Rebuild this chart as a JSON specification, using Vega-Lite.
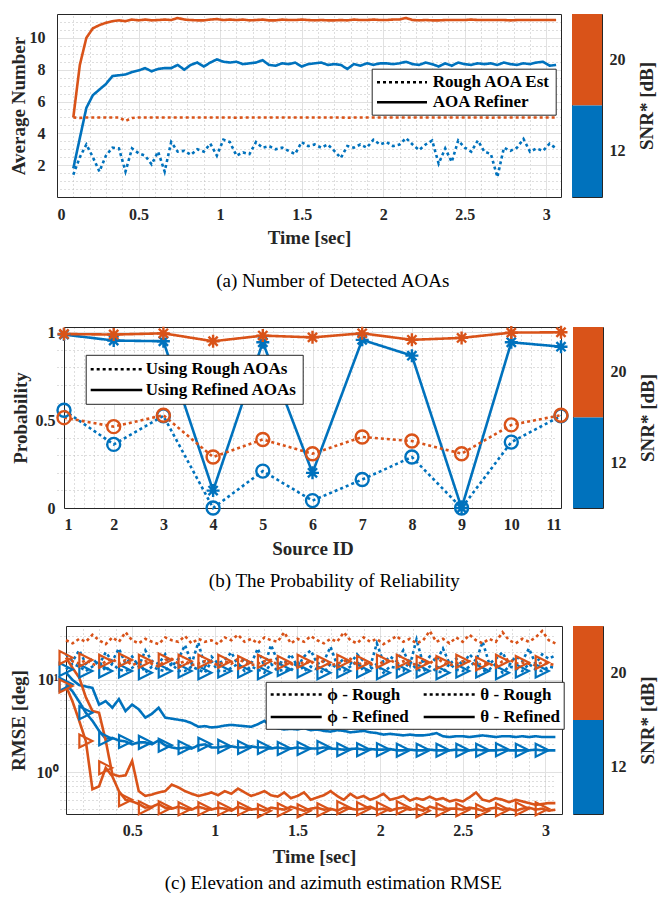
{
  "$schema": "https://vega.github.io/schema/vega-lite/v6.json",
  "background": "white",
  "padding": {"left": 8, "top": 12, "right": 0, "bottom": 0},
  "config": {
    "view": {"stroke": null},
    "axis": {
      "labelFont": "Liberation Serif", "labelFontWeight": "bold", "labelFontSize": 16, "labelColor": "#262626",
      "titleFont": "Liberation Serif", "titleFontWeight": "bold", "titleFontSize": 19, "titleColor": "#262626",
      "domainColor": "#262626", "domainWidth": 1, "ticks": false, "tickSize": 0,
      "gridColor": "#e1e1e1", "gridWidth": 1
    },
    "legend": {"labelFont": "Liberation Serif", "labelFontWeight": "bold", "labelFontSize": 17, "labelColor": "black", "labelLimit": 400, "symbolBaseStrokeColor": "black", "symbolBaseFillColor": "transparent"},
    "title": {"font": "Liberation Serif", "fontWeight": "normal", "fontSize": 19, "color": "black"},
    "line": {"strokeWidth": 2.6, "strokeCap": "butt"}
  },
  "resolve": {
    "scale": {"strokeDash": "independent", "shape": "independent"},
    "legend": {"strokeDash": "independent", "shape": "independent"}
  },
  "datasets": {
    "aoa": [
      {"t":0.1,"snr":"12","Rough AOA Est":1.4,"AOA Refiner":1.8},
      {"t":0.14,"snr":"12","Rough AOA Est":2.5,"AOA Refiner":3.7},
      {"t":0.18,"snr":"12","Rough AOA Est":3.3,"AOA Refiner":5.6},
      {"t":0.22,"snr":"12","Rough AOA Est":2.5,"AOA Refiner":6.4},
      {"t":0.26,"snr":"12","Rough AOA Est":1.6,"AOA Refiner":6.75},
      {"t":0.3,"snr":"12","Rough AOA Est":2.6,"AOA Refiner":7.1},
      {"t":0.34,"snr":"12","Rough AOA Est":3.1,"AOA Refiner":7.6},
      {"t":0.38,"snr":"12","Rough AOA Est":3.05,"AOA Refiner":7.65},
      {"t":0.42,"snr":"12","Rough AOA Est":1.6,"AOA Refiner":7.7},
      {"t":0.46,"snr":"12","Rough AOA Est":3.05,"AOA Refiner":7.85},
      {"t":0.5,"snr":"12","Rough AOA Est":2.75,"AOA Refiner":7.95},
      {"t":0.54,"snr":"12","Rough AOA Est":2.6,"AOA Refiner":8.1},
      {"t":0.58,"snr":"12","Rough AOA Est":2.05,"AOA Refiner":7.9},
      {"t":0.62,"snr":"12","Rough AOA Est":2.85,"AOA Refiner":8.05},
      {"t":0.66,"snr":"12","Rough AOA Est":1.6,"AOA Refiner":8.1},
      {"t":0.7,"snr":"12","Rough AOA Est":3.45,"AOA Refiner":8.1},
      {"t":0.74,"snr":"12","Rough AOA Est":2.85,"AOA Refiner":8.3},
      {"t":0.78,"snr":"12","Rough AOA Est":2.9,"AOA Refiner":8.0},
      {"t":0.82,"snr":"12","Rough AOA Est":2.65,"AOA Refiner":8.3},
      {"t":0.86,"snr":"12","Rough AOA Est":3.0,"AOA Refiner":8.45},
      {"t":0.9,"snr":"12","Rough AOA Est":2.85,"AOA Refiner":8.2},
      {"t":0.94,"snr":"12","Rough AOA Est":3.35,"AOA Refiner":8.45},
      {"t":0.98,"snr":"12","Rough AOA Est":2.6,"AOA Refiner":8.65},
      {"t":1.02,"snr":"12","Rough AOA Est":3.6,"AOA Refiner":8.5},
      {"t":1.06,"snr":"12","Rough AOA Est":3.45,"AOA Refiner":8.45},
      {"t":1.1,"snr":"12","Rough AOA Est":2.6,"AOA Refiner":8.5},
      {"t":1.14,"snr":"12","Rough AOA Est":2.8,"AOA Refiner":8.35},
      {"t":1.18,"snr":"12","Rough AOA Est":2.7,"AOA Refiner":8.4},
      {"t":1.22,"snr":"12","Rough AOA Est":3.45,"AOA Refiner":8.45},
      {"t":1.26,"snr":"12","Rough AOA Est":3.1,"AOA Refiner":8.6},
      {"t":1.3,"snr":"12","Rough AOA Est":3.2,"AOA Refiner":8.3},
      {"t":1.34,"snr":"12","Rough AOA Est":3.0,"AOA Refiner":8.25},
      {"t":1.38,"snr":"12","Rough AOA Est":3.1,"AOA Refiner":8.4},
      {"t":1.42,"snr":"12","Rough AOA Est":2.9,"AOA Refiner":8.35},
      {"t":1.46,"snr":"12","Rough AOA Est":2.7,"AOA Refiner":8.45},
      {"t":1.5,"snr":"12","Rough AOA Est":3.45,"AOA Refiner":8.2},
      {"t":1.54,"snr":"12","Rough AOA Est":3.2,"AOA Refiner":8.35},
      {"t":1.58,"snr":"12","Rough AOA Est":3.3,"AOA Refiner":8.4},
      {"t":1.62,"snr":"12","Rough AOA Est":3.1,"AOA Refiner":8.45},
      {"t":1.66,"snr":"12","Rough AOA Est":3.3,"AOA Refiner":8.3},
      {"t":1.7,"snr":"12","Rough AOA Est":2.9,"AOA Refiner":8.35},
      {"t":1.74,"snr":"12","Rough AOA Est":2.45,"AOA Refiner":8.3},
      {"t":1.78,"snr":"12","Rough AOA Est":3.2,"AOA Refiner":8.05},
      {"t":1.82,"snr":"12","Rough AOA Est":3.1,"AOA Refiner":8.35},
      {"t":1.86,"snr":"12","Rough AOA Est":3.3,"AOA Refiner":8.25},
      {"t":1.9,"snr":"12","Rough AOA Est":3.1,"AOA Refiner":8.4},
      {"t":1.94,"snr":"12","Rough AOA Est":3.6,"AOA Refiner":8.3},
      {"t":1.98,"snr":"12","Rough AOA Est":3.3,"AOA Refiner":8.4},
      {"t":2.02,"snr":"12","Rough AOA Est":3.45,"AOA Refiner":8.4},
      {"t":2.06,"snr":"12","Rough AOA Est":3.2,"AOA Refiner":8.35},
      {"t":2.1,"snr":"12","Rough AOA Est":3.3,"AOA Refiner":8.4},
      {"t":2.14,"snr":"12","Rough AOA Est":3.7,"AOA Refiner":8.5},
      {"t":2.18,"snr":"12","Rough AOA Est":3.3,"AOA Refiner":8.35},
      {"t":2.22,"snr":"12","Rough AOA Est":2.95,"AOA Refiner":8.3},
      {"t":2.26,"snr":"12","Rough AOA Est":3.3,"AOA Refiner":8.45},
      {"t":2.3,"snr":"12","Rough AOA Est":3.55,"AOA Refiner":8.35},
      {"t":2.34,"snr":"12","Rough AOA Est":2.1,"AOA Refiner":8.2},
      {"t":2.38,"snr":"12","Rough AOA Est":3.05,"AOA Refiner":8.4},
      {"t":2.42,"snr":"12","Rough AOA Est":2.2,"AOA Refiner":8.25},
      {"t":2.46,"snr":"12","Rough AOA Est":3.55,"AOA Refiner":8.45},
      {"t":2.5,"snr":"12","Rough AOA Est":3.1,"AOA Refiner":8.35},
      {"t":2.54,"snr":"12","Rough AOA Est":2.85,"AOA Refiner":8.3},
      {"t":2.58,"snr":"12","Rough AOA Est":3.55,"AOA Refiner":8.4},
      {"t":2.62,"snr":"12","Rough AOA Est":2.85,"AOA Refiner":8.35},
      {"t":2.66,"snr":"12","Rough AOA Est":2.7,"AOA Refiner":8.4},
      {"t":2.7,"snr":"12","Rough AOA Est":1.25,"AOA Refiner":8.3},
      {"t":2.74,"snr":"12","Rough AOA Est":3.1,"AOA Refiner":8.45},
      {"t":2.78,"snr":"12","Rough AOA Est":2.9,"AOA Refiner":8.35},
      {"t":2.82,"snr":"12","Rough AOA Est":3.1,"AOA Refiner":8.3},
      {"t":2.86,"snr":"12","Rough AOA Est":3.65,"AOA Refiner":8.4},
      {"t":2.9,"snr":"12","Rough AOA Est":2.85,"AOA Refiner":8.35},
      {"t":2.94,"snr":"12","Rough AOA Est":3.05,"AOA Refiner":8.45},
      {"t":2.98,"snr":"12","Rough AOA Est":2.9,"AOA Refiner":8.5},
      {"t":3.02,"snr":"12","Rough AOA Est":3.35,"AOA Refiner":8.25},
      {"t":3.06,"snr":"12","Rough AOA Est":3.05,"AOA Refiner":8.3},
      {"t":0.1,"snr":"20","Rough AOA Est":5,"AOA Refiner":5.0},
      {"t":0.14,"snr":"20","Rough AOA Est":4.97,"AOA Refiner":8.3},
      {"t":0.18,"snr":"20","Rough AOA Est":5,"AOA Refiner":10.0},
      {"t":0.22,"snr":"20","Rough AOA Est":5,"AOA Refiner":10.6},
      {"t":0.26,"snr":"20","Rough AOA Est":5,"AOA Refiner":10.8},
      {"t":0.3,"snr":"20","Rough AOA Est":5,"AOA Refiner":10.95},
      {"t":0.34,"snr":"20","Rough AOA Est":5,"AOA Refiner":11.05},
      {"t":0.38,"snr":"20","Rough AOA Est":5,"AOA Refiner":11.1},
      {"t":0.42,"snr":"20","Rough AOA Est":4.78,"AOA Refiner":11.05},
      {"t":0.46,"snr":"20","Rough AOA Est":4.97,"AOA Refiner":11.15},
      {"t":0.5,"snr":"20","Rough AOA Est":5,"AOA Refiner":11.1},
      {"t":0.54,"snr":"20","Rough AOA Est":5,"AOA Refiner":11.15},
      {"t":0.58,"snr":"20","Rough AOA Est":5,"AOA Refiner":11.1},
      {"t":0.62,"snr":"20","Rough AOA Est":5,"AOA Refiner":11.12},
      {"t":0.66,"snr":"20","Rough AOA Est":5,"AOA Refiner":11.15},
      {"t":0.7,"snr":"20","Rough AOA Est":5,"AOA Refiner":11.12},
      {"t":0.74,"snr":"20","Rough AOA Est":5,"AOA Refiner":11.25},
      {"t":0.78,"snr":"20","Rough AOA Est":5,"AOA Refiner":11.15},
      {"t":0.82,"snr":"20","Rough AOA Est":5,"AOA Refiner":11.12},
      {"t":0.86,"snr":"20","Rough AOA Est":5,"AOA Refiner":11.1},
      {"t":0.9,"snr":"20","Rough AOA Est":5,"AOA Refiner":11.1},
      {"t":0.94,"snr":"20","Rough AOA Est":5,"AOA Refiner":11.15},
      {"t":0.98,"snr":"20","Rough AOA Est":5,"AOA Refiner":11.18},
      {"t":1.02,"snr":"20","Rough AOA Est":5,"AOA Refiner":11.12},
      {"t":1.06,"snr":"20","Rough AOA Est":5,"AOA Refiner":11.15},
      {"t":1.1,"snr":"20","Rough AOA Est":4.98,"AOA Refiner":11.12},
      {"t":1.14,"snr":"20","Rough AOA Est":5,"AOA Refiner":11.15},
      {"t":1.18,"snr":"20","Rough AOA Est":5,"AOA Refiner":11.1},
      {"t":1.22,"snr":"20","Rough AOA Est":5,"AOA Refiner":11.12},
      {"t":1.26,"snr":"20","Rough AOA Est":5,"AOA Refiner":11.15},
      {"t":1.3,"snr":"20","Rough AOA Est":5,"AOA Refiner":11.1},
      {"t":1.34,"snr":"20","Rough AOA Est":5,"AOA Refiner":11.1},
      {"t":1.38,"snr":"20","Rough AOA Est":5,"AOA Refiner":11.15},
      {"t":1.42,"snr":"20","Rough AOA Est":5,"AOA Refiner":11.12},
      {"t":1.46,"snr":"20","Rough AOA Est":5,"AOA Refiner":11.12},
      {"t":1.5,"snr":"20","Rough AOA Est":5,"AOA Refiner":11.15},
      {"t":1.54,"snr":"20","Rough AOA Est":5,"AOA Refiner":11.12},
      {"t":1.58,"snr":"20","Rough AOA Est":5,"AOA Refiner":11.1},
      {"t":1.62,"snr":"20","Rough AOA Est":5,"AOA Refiner":11.12},
      {"t":1.66,"snr":"20","Rough AOA Est":5,"AOA Refiner":11.1},
      {"t":1.7,"snr":"20","Rough AOA Est":5,"AOA Refiner":11.1},
      {"t":1.74,"snr":"20","Rough AOA Est":5,"AOA Refiner":11.12},
      {"t":1.78,"snr":"20","Rough AOA Est":4.98,"AOA Refiner":11.1},
      {"t":1.82,"snr":"20","Rough AOA Est":5,"AOA Refiner":11.15},
      {"t":1.86,"snr":"20","Rough AOA Est":5,"AOA Refiner":11.12},
      {"t":1.9,"snr":"20","Rough AOA Est":5,"AOA Refiner":11.12},
      {"t":1.94,"snr":"20","Rough AOA Est":5,"AOA Refiner":11.15},
      {"t":1.98,"snr":"20","Rough AOA Est":5,"AOA Refiner":11.12},
      {"t":2.02,"snr":"20","Rough AOA Est":5,"AOA Refiner":11.12},
      {"t":2.06,"snr":"20","Rough AOA Est":5,"AOA Refiner":11.15},
      {"t":2.1,"snr":"20","Rough AOA Est":5,"AOA Refiner":11.15},
      {"t":2.14,"snr":"20","Rough AOA Est":5,"AOA Refiner":11.25},
      {"t":2.18,"snr":"20","Rough AOA Est":5,"AOA Refiner":11.12},
      {"t":2.22,"snr":"20","Rough AOA Est":5,"AOA Refiner":11.1},
      {"t":2.26,"snr":"20","Rough AOA Est":5,"AOA Refiner":11.12},
      {"t":2.3,"snr":"20","Rough AOA Est":5,"AOA Refiner":11.1},
      {"t":2.34,"snr":"20","Rough AOA Est":5,"AOA Refiner":11.1},
      {"t":2.38,"snr":"20","Rough AOA Est":5,"AOA Refiner":11.12},
      {"t":2.42,"snr":"20","Rough AOA Est":5,"AOA Refiner":11.12},
      {"t":2.46,"snr":"20","Rough AOA Est":5,"AOA Refiner":11.12},
      {"t":2.5,"snr":"20","Rough AOA Est":5,"AOA Refiner":11.12},
      {"t":2.54,"snr":"20","Rough AOA Est":5,"AOA Refiner":11.15},
      {"t":2.58,"snr":"20","Rough AOA Est":5,"AOA Refiner":11.12},
      {"t":2.62,"snr":"20","Rough AOA Est":5,"AOA Refiner":11.12},
      {"t":2.66,"snr":"20","Rough AOA Est":4.98,"AOA Refiner":11.12},
      {"t":2.7,"snr":"20","Rough AOA Est":5,"AOA Refiner":11.12},
      {"t":2.74,"snr":"20","Rough AOA Est":5,"AOA Refiner":11.12},
      {"t":2.78,"snr":"20","Rough AOA Est":5,"AOA Refiner":11.1},
      {"t":2.82,"snr":"20","Rough AOA Est":5,"AOA Refiner":11.12},
      {"t":2.86,"snr":"20","Rough AOA Est":5,"AOA Refiner":11.12},
      {"t":2.9,"snr":"20","Rough AOA Est":5,"AOA Refiner":11.12},
      {"t":2.94,"snr":"20","Rough AOA Est":5,"AOA Refiner":11.12},
      {"t":2.98,"snr":"20","Rough AOA Est":5,"AOA Refiner":11.12},
      {"t":3.02,"snr":"20","Rough AOA Est":5,"AOA Refiner":11.12},
      {"t":3.06,"snr":"20","Rough AOA Est":5,"AOA Refiner":11.12}
    ],
    "prob": [
      {"id":1,"snr":"12","Using Rough AOAs":0.556,"Using Refined AOAs":0.987},
      {"id":2,"snr":"12","Using Rough AOAs":0.362,"Using Refined AOAs":0.953},
      {"id":3,"snr":"12","Using Rough AOAs":0.524,"Using Refined AOAs":0.949},
      {"id":4,"snr":"12","Using Rough AOAs":0.0,"Using Refined AOAs":0.099},
      {"id":5,"snr":"12","Using Rough AOAs":0.21,"Using Refined AOAs":0.943},
      {"id":6,"snr":"12","Using Rough AOAs":0.042,"Using Refined AOAs":0.2},
      {"id":7,"snr":"12","Using Rough AOAs":0.162,"Using Refined AOAs":0.957},
      {"id":8,"snr":"12","Using Rough AOAs":0.29,"Using Refined AOAs":0.867},
      {"id":9,"snr":"12","Using Rough AOAs":0.0,"Using Refined AOAs":0.0},
      {"id":10,"snr":"12","Using Rough AOAs":0.375,"Using Refined AOAs":0.943},
      {"id":11,"snr":"12","Using Rough AOAs":0.524,"Using Refined AOAs":0.918},
      {"id":1,"snr":"20","Using Rough AOAs":0.514,"Using Refined AOAs":0.99},
      {"id":2,"snr":"20","Using Rough AOAs":0.463,"Using Refined AOAs":0.987},
      {"id":3,"snr":"20","Using Rough AOAs":0.528,"Using Refined AOAs":0.994},
      {"id":4,"snr":"20","Using Rough AOAs":0.29,"Using Refined AOAs":0.949},
      {"id":5,"snr":"20","Using Rough AOAs":0.39,"Using Refined AOAs":0.981},
      {"id":6,"snr":"20","Using Rough AOAs":0.309,"Using Refined AOAs":0.971},
      {"id":7,"snr":"20","Using Rough AOAs":0.404,"Using Refined AOAs":0.994},
      {"id":8,"snr":"20","Using Rough AOAs":0.381,"Using Refined AOAs":0.957},
      {"id":9,"snr":"20","Using Rough AOAs":0.309,"Using Refined AOAs":0.968},
      {"id":10,"snr":"20","Using Rough AOAs":0.473,"Using Refined AOAs":0.998},
      {"id":11,"snr":"20","Using Rough AOAs":0.528,"Using Refined AOAs":1.0}
    ],
    "rmse": [
      {"t":0.1,"snr":"12","ϕ - Rough":19,"θ - Rough":13,"ϕ - Refined":12,"θ - Refined":9.0},
      {"t":0.14,"snr":"12","ϕ - Rough":16,"θ - Rough":15,"ϕ - Refined":10,"θ - Refined":7.5},
      {"t":0.18,"snr":"12","ϕ - Rough":21,"θ - Rough":14,"ϕ - Refined":8.8,"θ - Refined":5.8},
      {"t":0.22,"snr":"12","ϕ - Rough":15,"θ - Rough":12.5,"ϕ - Refined":8.5,"θ - Refined":4.4},
      {"t":0.26,"snr":"12","ϕ - Rough":17,"θ - Rough":14,"ϕ - Refined":8.2,"θ - Refined":3.6},
      {"t":0.3,"snr":"12","ϕ - Rough":14.5,"θ - Rough":16,"ϕ - Refined":5.4,"θ - Refined":2.8},
      {"t":0.34,"snr":"12","ϕ - Rough":20,"θ - Rough":12.5,"ϕ - Refined":5.9,"θ - Refined":2.3},
      {"t":0.38,"snr":"12","ϕ - Rough":16,"θ - Rough":15,"ϕ - Refined":5.0,"θ - Refined":2.35},
      {"t":0.42,"snr":"12","ϕ - Rough":22,"θ - Rough":13,"ϕ - Refined":6.2,"θ - Refined":2.2},
      {"t":0.46,"snr":"12","ϕ - Rough":15,"θ - Rough":12.5,"ϕ - Refined":4.6,"θ - Refined":2.15},
      {"t":0.5,"snr":"12","ϕ - Rough":18,"θ - Rough":13.5,"ϕ - Refined":5.4,"θ - Refined":2.0},
      {"t":0.54,"snr":"12","ϕ - Rough":14,"θ - Rough":16,"ϕ - Refined":4.8,"θ - Refined":2.1},
      {"t":0.58,"snr":"12","ϕ - Rough":21,"θ - Rough":12,"ϕ - Refined":3.9,"θ - Refined":2.1},
      {"t":0.62,"snr":"12","ϕ - Rough":16,"θ - Rough":14,"ϕ - Refined":4.3,"θ - Refined":2.0},
      {"t":0.66,"snr":"12","ϕ - Rough":15,"θ - Rough":13,"ϕ - Refined":5.0,"θ - Refined":2.2},
      {"t":0.7,"snr":"12","ϕ - Rough":19,"θ - Rough":12.5,"ϕ - Refined":3.9,"θ - Refined":1.95},
      {"t":0.74,"snr":"12","ϕ - Rough":14,"θ - Rough":15,"ϕ - Refined":3.8,"θ - Refined":1.85},
      {"t":0.78,"snr":"12","ϕ - Rough":17,"θ - Rough":12.5,"ϕ - Refined":3.7,"θ - Refined":1.8},
      {"t":0.82,"snr":"12","ϕ - Rough":24,"θ - Rough":12.5,"ϕ - Refined":3.6,"θ - Refined":1.85},
      {"t":0.86,"snr":"12","ϕ - Rough":15,"θ - Rough":14,"ϕ - Refined":3.4,"θ - Refined":1.8},
      {"t":0.9,"snr":"12","ϕ - Rough":25.5,"θ - Rough":13,"ϕ - Refined":3.1,"θ - Refined":1.95},
      {"t":0.94,"snr":"12","ϕ - Rough":14,"θ - Rough":12,"ϕ - Refined":3.15,"θ - Refined":2.0},
      {"t":0.98,"snr":"12","ϕ - Rough":18,"θ - Rough":16,"ϕ - Refined":3.05,"θ - Refined":1.85},
      {"t":1.02,"snr":"12","ϕ - Rough":15,"θ - Rough":12.5,"ϕ - Refined":3.1,"θ - Refined":1.85},
      {"t":1.06,"snr":"12","ϕ - Rough":16.5,"θ - Rough":12.5,"ϕ - Refined":3.2,"θ - Refined":1.9},
      {"t":1.1,"snr":"12","ϕ - Rough":20,"θ - Rough":13.5,"ϕ - Refined":3.25,"θ - Refined":1.9},
      {"t":1.14,"snr":"12","ϕ - Rough":14.5,"θ - Rough":15,"ϕ - Refined":3.2,"θ - Refined":1.85},
      {"t":1.18,"snr":"12","ϕ - Rough":17,"θ - Rough":12.5,"ϕ - Refined":3.15,"θ - Refined":1.85},
      {"t":1.22,"snr":"12","ϕ - Rough":15,"θ - Rough":14,"ϕ - Refined":3.1,"θ - Refined":1.9},
      {"t":1.26,"snr":"12","ϕ - Rough":22,"θ - Rough":13,"ϕ - Refined":3.3,"θ - Refined":1.85},
      {"t":1.3,"snr":"12","ϕ - Rough":14,"θ - Rough":12,"ϕ - Refined":3.6,"θ - Refined":1.85},
      {"t":1.34,"snr":"12","ϕ - Rough":24,"θ - Rough":15,"ϕ - Refined":3.1,"θ - Refined":1.8},
      {"t":1.38,"snr":"12","ϕ - Rough":16,"θ - Rough":12.5,"ϕ - Refined":3.0,"θ - Refined":1.85},
      {"t":1.42,"snr":"12","ϕ - Rough":15,"θ - Rough":13,"ϕ - Refined":2.9,"θ - Refined":1.8},
      {"t":1.46,"snr":"12","ϕ - Rough":19,"θ - Rough":12.5,"ϕ - Refined":2.95,"θ - Refined":1.8},
      {"t":1.5,"snr":"12","ϕ - Rough":14,"θ - Rough":16,"ϕ - Refined":2.9,"θ - Refined":1.85},
      {"t":1.54,"snr":"12","ϕ - Rough":18,"θ - Rough":12.5,"ϕ - Refined":3.0,"θ - Refined":1.8},
      {"t":1.58,"snr":"12","ϕ - Rough":21,"θ - Rough":14,"ϕ - Refined":2.85,"θ - Refined":1.8},
      {"t":1.62,"snr":"12","ϕ - Rough":15,"θ - Rough":13,"ϕ - Refined":2.9,"θ - Refined":1.8},
      {"t":1.66,"snr":"12","ϕ - Rough":16,"θ - Rough":12,"ϕ - Refined":2.8,"θ - Refined":1.85},
      {"t":1.7,"snr":"12","ϕ - Rough":23,"θ - Rough":15,"ϕ - Refined":2.75,"θ - Refined":1.8},
      {"t":1.74,"snr":"12","ϕ - Rough":14.5,"θ - Rough":13.5,"ϕ - Refined":2.85,"θ - Refined":1.78},
      {"t":1.78,"snr":"12","ϕ - Rough":17,"θ - Rough":12.5,"ϕ - Refined":2.8,"θ - Refined":1.75},
      {"t":1.82,"snr":"12","ϕ - Rough":15,"θ - Rough":14,"ϕ - Refined":2.7,"θ - Refined":1.78},
      {"t":1.86,"snr":"12","ϕ - Rough":19,"θ - Rough":16,"ϕ - Refined":2.75,"θ - Refined":1.8},
      {"t":1.9,"snr":"12","ϕ - Rough":16,"θ - Rough":12.5,"ϕ - Refined":2.8,"θ - Refined":1.75},
      {"t":1.94,"snr":"12","ϕ - Rough":14,"θ - Rough":13,"ϕ - Refined":2.7,"θ - Refined":1.78},
      {"t":1.98,"snr":"12","ϕ - Rough":25,"θ - Rough":15,"ϕ - Refined":2.65,"θ - Refined":1.75},
      {"t":2.02,"snr":"12","ϕ - Rough":15.5,"θ - Rough":12,"ϕ - Refined":2.55,"θ - Refined":1.75},
      {"t":2.06,"snr":"12","ϕ - Rough":18,"θ - Rough":14,"ϕ - Refined":2.6,"θ - Refined":1.78},
      {"t":2.1,"snr":"12","ϕ - Rough":16,"θ - Rough":13.5,"ϕ - Refined":2.55,"θ - Refined":1.72},
      {"t":2.14,"snr":"12","ϕ - Rough":21,"θ - Rough":12.5,"ϕ - Refined":2.5,"θ - Refined":1.72},
      {"t":2.18,"snr":"12","ϕ - Rough":14.5,"θ - Rough":16,"ϕ - Refined":2.55,"θ - Refined":1.75},
      {"t":2.22,"snr":"12","ϕ - Rough":27.5,"θ - Rough":13,"ϕ - Refined":2.5,"θ - Refined":1.72},
      {"t":2.26,"snr":"12","ϕ - Rough":15,"θ - Rough":12.5,"ϕ - Refined":2.5,"θ - Refined":1.72},
      {"t":2.3,"snr":"12","ϕ - Rough":18,"θ - Rough":14,"ϕ - Refined":2.55,"θ - Refined":1.75},
      {"t":2.34,"snr":"12","ϕ - Rough":16,"θ - Rough":12.5,"ϕ - Refined":2.65,"θ - Refined":1.72},
      {"t":2.38,"snr":"12","ϕ - Rough":22,"θ - Rough":12,"ϕ - Refined":2.45,"θ - Refined":1.72},
      {"t":2.42,"snr":"12","ϕ - Rough":15,"θ - Rough":15,"ϕ - Refined":2.4,"θ - Refined":1.72},
      {"t":2.46,"snr":"12","ϕ - Rough":17,"θ - Rough":13,"ϕ - Refined":2.45,"θ - Refined":1.75},
      {"t":2.5,"snr":"12","ϕ - Rough":14.5,"θ - Rough":12.5,"ϕ - Refined":2.45,"θ - Refined":1.72},
      {"t":2.54,"snr":"12","ϕ - Rough":19,"θ - Rough":14,"ϕ - Refined":2.4,"θ - Refined":1.72},
      {"t":2.58,"snr":"12","ϕ - Rough":16,"θ - Rough":16,"ϕ - Refined":2.45,"θ - Refined":1.75},
      {"t":2.62,"snr":"12","ϕ - Rough":26,"θ - Rough":12.5,"ϕ - Refined":2.5,"θ - Refined":1.72},
      {"t":2.66,"snr":"12","ϕ - Rough":15,"θ - Rough":13,"ϕ - Refined":2.45,"θ - Refined":1.72},
      {"t":2.7,"snr":"12","ϕ - Rough":17,"θ - Rough":15,"ϕ - Refined":2.4,"θ - Refined":1.72},
      {"t":2.74,"snr":"12","ϕ - Rough":20,"θ - Rough":12,"ϕ - Refined":2.45,"θ - Refined":1.75},
      {"t":2.78,"snr":"12","ϕ - Rough":14.5,"θ - Rough":14,"ϕ - Refined":2.45,"θ - Refined":1.72},
      {"t":2.82,"snr":"12","ϕ - Rough":18,"θ - Rough":13.5,"ϕ - Refined":2.4,"θ - Refined":1.72},
      {"t":2.86,"snr":"12","ϕ - Rough":16,"θ - Rough":12.5,"ϕ - Refined":2.45,"θ - Refined":1.72},
      {"t":2.9,"snr":"12","ϕ - Rough":22,"θ - Rough":15,"ϕ - Refined":2.4,"θ - Refined":1.72},
      {"t":2.94,"snr":"12","ϕ - Rough":15,"θ - Rough":13,"ϕ - Refined":2.45,"θ - Refined":1.75},
      {"t":2.98,"snr":"12","ϕ - Rough":19,"θ - Rough":12.5,"ϕ - Refined":2.4,"θ - Refined":1.72},
      {"t":3.02,"snr":"12","ϕ - Rough":17,"θ - Rough":14,"ϕ - Refined":2.4,"θ - Refined":1.72},
      {"t":3.06,"snr":"12","ϕ - Rough":18.5,"θ - Rough":13.5,"ϕ - Refined":2.4,"θ - Refined":1.72},
      {"t":0.1,"snr":"20","ϕ - Rough":27,"θ - Rough":17.5,"ϕ - Refined":17.5,"θ - Refined":8.6},
      {"t":0.14,"snr":"20","ϕ - Rough":25,"θ - Rough":16,"ϕ - Refined":13.5,"θ - Refined":5.8},
      {"t":0.18,"snr":"20","ϕ - Rough":28,"θ - Rough":15,"ϕ - Refined":10.6,"θ - Refined":3.6},
      {"t":0.22,"snr":"20","ϕ - Rough":26,"θ - Rough":16.5,"ϕ - Refined":6.5,"θ - Refined":2.17},
      {"t":0.26,"snr":"20","ϕ - Rough":31,"θ - Rough":15,"ϕ - Refined":4.6,"θ - Refined":0.65},
      {"t":0.3,"snr":"20","ϕ - Rough":27,"θ - Rough":14,"ϕ - Refined":4.4,"θ - Refined":0.7},
      {"t":0.34,"snr":"20","ϕ - Rough":24.5,"θ - Rough":16,"ϕ - Refined":2.2,"θ - Refined":1.11},
      {"t":0.38,"snr":"20","ϕ - Rough":29,"θ - Rough":17,"ϕ - Refined":0.95,"θ - Refined":0.9},
      {"t":0.42,"snr":"20","ϕ - Rough":26,"θ - Rough":15,"ϕ - Refined":0.9,"θ - Refined":0.62},
      {"t":0.46,"snr":"20","ϕ - Rough":33,"θ - Rough":16.5,"ϕ - Refined":0.92,"θ - Refined":0.5},
      {"t":0.5,"snr":"20","ϕ - Rough":27,"θ - Rough":14.5,"ϕ - Refined":1.32,"θ - Refined":0.48},
      {"t":0.54,"snr":"20","ϕ - Rough":25,"θ - Rough":15.5,"ϕ - Refined":0.62,"θ - Refined":0.45},
      {"t":0.58,"snr":"20","ϕ - Rough":28,"θ - Rough":16,"ϕ - Refined":0.55,"θ - Refined":0.41},
      {"t":0.62,"snr":"20","ϕ - Rough":26,"θ - Rough":15,"ϕ - Refined":0.57,"θ - Refined":0.42},
      {"t":0.66,"snr":"20","ϕ - Rough":24.5,"θ - Rough":14,"ϕ - Refined":0.6,"θ - Refined":0.45},
      {"t":0.7,"snr":"20","ϕ - Rough":29,"θ - Rough":16.5,"ϕ - Refined":0.62,"θ - Refined":0.41},
      {"t":0.74,"snr":"20","ϕ - Rough":27,"θ - Rough":17,"ϕ - Refined":0.73,"θ - Refined":0.4},
      {"t":0.78,"snr":"20","ϕ - Rough":26,"θ - Rough":15,"ϕ - Refined":0.68,"θ - Refined":0.42},
      {"t":0.82,"snr":"20","ϕ - Rough":30,"θ - Rough":16,"ϕ - Refined":0.62,"θ - Refined":0.4},
      {"t":0.86,"snr":"20","ϕ - Rough":25,"θ - Rough":14.5,"ϕ - Refined":0.58,"θ - Refined":0.39},
      {"t":0.9,"snr":"20","ϕ - Rough":28,"θ - Rough":15,"ϕ - Refined":0.55,"θ - Refined":0.42},
      {"t":0.94,"snr":"20","ϕ - Rough":26,"θ - Rough":16,"ϕ - Refined":0.57,"θ - Refined":0.4},
      {"t":0.98,"snr":"20","ϕ - Rough":27,"θ - Rough":15.5,"ϕ - Refined":0.6,"θ - Refined":0.39},
      {"t":1.02,"snr":"20","ϕ - Rough":24.5,"θ - Rough":14.5,"ϕ - Refined":0.56,"θ - Refined":0.41},
      {"t":1.06,"snr":"20","ϕ - Rough":29,"θ - Rough":16,"ϕ - Refined":0.62,"θ - Refined":0.4},
      {"t":1.1,"snr":"20","ϕ - Rough":27,"θ - Rough":15,"ϕ - Refined":0.58,"θ - Refined":0.38},
      {"t":1.14,"snr":"20","ϕ - Rough":31,"θ - Rough":17,"ϕ - Refined":0.66,"θ - Refined":0.42},
      {"t":1.18,"snr":"20","ϕ - Rough":26,"θ - Rough":15.5,"ϕ - Refined":0.6,"θ - Refined":0.4},
      {"t":1.22,"snr":"20","ϕ - Rough":28,"θ - Rough":14.5,"ϕ - Refined":0.55,"θ - Refined":0.39},
      {"t":1.26,"snr":"20","ϕ - Rough":25,"θ - Rough":15,"ϕ - Refined":0.58,"θ - Refined":0.4},
      {"t":1.3,"snr":"20","ϕ - Rough":29,"θ - Rough":16,"ϕ - Refined":0.62,"θ - Refined":0.38},
      {"t":1.34,"snr":"20","ϕ - Rough":27,"θ - Rough":16.5,"ϕ - Refined":0.56,"θ - Refined":0.41},
      {"t":1.38,"snr":"20","ϕ - Rough":26,"θ - Rough":14.5,"ϕ - Refined":0.54,"θ - Refined":0.4},
      {"t":1.42,"snr":"20","ϕ - Rough":33,"θ - Rough":15.5,"ϕ - Refined":0.6,"θ - Refined":0.39},
      {"t":1.46,"snr":"20","ϕ - Rough":25,"θ - Rough":15,"ϕ - Refined":0.52,"θ - Refined":0.42},
      {"t":1.5,"snr":"20","ϕ - Rough":28,"θ - Rough":14,"ϕ - Refined":0.55,"θ - Refined":0.4},
      {"t":1.54,"snr":"20","ϕ - Rough":26,"θ - Rough":16,"ϕ - Refined":0.6,"θ - Refined":0.38},
      {"t":1.58,"snr":"20","ϕ - Rough":30,"θ - Rough":15,"ϕ - Refined":0.5,"θ - Refined":0.4},
      {"t":1.62,"snr":"20","ϕ - Rough":27,"θ - Rough":17,"ϕ - Refined":0.53,"θ - Refined":0.41},
      {"t":1.66,"snr":"20","ϕ - Rough":25,"θ - Rough":15.5,"ϕ - Refined":0.56,"θ - Refined":0.39},
      {"t":1.7,"snr":"20","ϕ - Rough":28,"θ - Rough":14.5,"ϕ - Refined":0.62,"θ - Refined":0.4},
      {"t":1.74,"snr":"20","ϕ - Rough":26,"θ - Rough":15,"ϕ - Refined":0.55,"θ - Refined":0.38},
      {"t":1.78,"snr":"20","ϕ - Rough":33,"θ - Rough":16,"ϕ - Refined":0.5,"θ - Refined":0.41},
      {"t":1.82,"snr":"20","ϕ - Rough":27,"θ - Rough":17,"ϕ - Refined":0.58,"θ - Refined":0.4},
      {"t":1.86,"snr":"20","ϕ - Rough":25,"θ - Rough":14.5,"ϕ - Refined":0.52,"θ - Refined":0.39},
      {"t":1.9,"snr":"20","ϕ - Rough":29,"θ - Rough":15.5,"ϕ - Refined":0.55,"θ - Refined":0.4},
      {"t":1.94,"snr":"20","ϕ - Rough":26,"θ - Rough":15,"ϕ - Refined":0.5,"θ - Refined":0.42},
      {"t":1.98,"snr":"20","ϕ - Rough":28,"θ - Rough":14,"ϕ - Refined":0.53,"θ - Refined":0.39},
      {"t":2.02,"snr":"20","ϕ - Rough":24.5,"θ - Rough":16,"ϕ - Refined":0.58,"θ - Refined":0.4},
      {"t":2.06,"snr":"20","ϕ - Rough":27,"θ - Rough":16.5,"ϕ - Refined":0.5,"θ - Refined":0.38},
      {"t":2.1,"snr":"20","ϕ - Rough":30,"θ - Rough":15,"ϕ - Refined":0.52,"θ - Refined":0.4},
      {"t":2.14,"snr":"20","ϕ - Rough":26,"θ - Rough":16,"ϕ - Refined":0.55,"θ - Refined":0.41},
      {"t":2.18,"snr":"20","ϕ - Rough":28,"θ - Rough":14.5,"ϕ - Refined":0.49,"θ - Refined":0.39},
      {"t":2.22,"snr":"20","ϕ - Rough":25,"θ - Rough":15,"ϕ - Refined":0.52,"θ - Refined":0.4},
      {"t":2.26,"snr":"20","ϕ - Rough":27,"θ - Rough":15.5,"ϕ - Refined":0.5,"θ - Refined":0.38},
      {"t":2.3,"snr":"20","ϕ - Rough":34,"θ - Rough":15,"ϕ - Refined":0.54,"θ - Refined":0.42},
      {"t":2.34,"snr":"20","ϕ - Rough":26,"θ - Rough":17.5,"ϕ - Refined":0.5,"θ - Refined":0.4},
      {"t":2.38,"snr":"20","ϕ - Rough":28,"θ - Rough":15.5,"ϕ - Refined":0.52,"θ - Refined":0.39},
      {"t":2.42,"snr":"20","ϕ - Rough":25,"θ - Rough":14.5,"ϕ - Refined":0.48,"θ - Refined":0.4},
      {"t":2.46,"snr":"20","ϕ - Rough":29,"θ - Rough":15,"ϕ - Refined":0.5,"θ - Refined":0.4},
      {"t":2.5,"snr":"20","ϕ - Rough":26,"θ - Rough":16,"ϕ - Refined":0.48,"θ - Refined":0.39},
      {"t":2.54,"snr":"20","ϕ - Rough":31,"θ - Rough":16,"ϕ - Refined":0.53,"θ - Refined":0.41},
      {"t":2.58,"snr":"20","ϕ - Rough":27,"θ - Rough":14.5,"ϕ - Refined":0.6,"θ - Refined":0.4},
      {"t":2.62,"snr":"20","ϕ - Rough":25,"θ - Rough":15,"ϕ - Refined":0.5,"θ - Refined":0.38},
      {"t":2.66,"snr":"20","ϕ - Rough":28,"θ - Rough":15,"ϕ - Refined":0.48,"θ - Refined":0.4},
      {"t":2.7,"snr":"20","ϕ - Rough":26,"θ - Rough":14,"ϕ - Refined":0.52,"θ - Refined":0.41},
      {"t":2.74,"snr":"20","ϕ - Rough":33,"θ - Rough":16,"ϕ - Refined":0.5,"θ - Refined":0.39},
      {"t":2.78,"snr":"20","ϕ - Rough":27,"θ - Rough":17,"ϕ - Refined":0.47,"θ - Refined":0.4},
      {"t":2.82,"snr":"20","ϕ - Rough":25,"θ - Rough":15,"ϕ - Refined":0.5,"θ - Refined":0.38},
      {"t":2.86,"snr":"20","ϕ - Rough":28,"θ - Rough":15.5,"ϕ - Refined":0.48,"θ - Refined":0.4},
      {"t":2.9,"snr":"20","ϕ - Rough":26,"θ - Rough":15,"ϕ - Refined":0.46,"θ - Refined":0.41},
      {"t":2.94,"snr":"20","ϕ - Rough":29,"θ - Rough":14.5,"ϕ - Refined":0.44,"θ - Refined":0.39},
      {"t":2.98,"snr":"20","ϕ - Rough":34,"θ - Rough":15.5,"ϕ - Refined":0.45,"θ - Refined":0.4},
      {"t":3.02,"snr":"20","ϕ - Rough":27,"θ - Rough":15,"ϕ - Refined":0.46,"θ - Refined":0.38},
      {"t":3.06,"snr":"20","ϕ - Rough":25,"θ - Rough":14.5,"ϕ - Refined":0.46,"θ - Refined":0.39}
    ]
  },
  "spacing": 29,
  "vconcat": [
    {
      "spacing": 11,
      "bounds": "flush",
      "resolve": {"scale": {"strokeDash": "independent", "shape": "independent"}},
      "title": {"text": "(a) Number of Detected AOAs", "orient": "bottom", "anchor": "middle", "frame": "bounds", "offset": 25},
      "hconcat": [
        {
          "width": 504, "height": 183,
          "data": {"name": "aoa"},
          "transform": [{"fold": ["Rough AOA Est", "AOA Refiner"], "as": ["method", "v"]}],
          "resolve": {"axis": {"x": "independent", "y": "independent"}},
          "layer": [
            {
              "mark": {"type": "point", "opacity": 0},
              "encoding": {
                "x": {"field": "t", "type": "quantitative", "scale": {"domain": [0, 3.09], "nice": false, "zero": false},
                  "axis": {"orient": "top", "title": null, "labels": false, "domain": true, "grid": true, "gridDash": [1, 3], "gridColor": "#bcbcbc",
                    "values": [0.1,0.2,0.3,0.4,0.6,0.7,0.8,0.9,1.1,1.2,1.3,1.4,1.6,1.7,1.8,1.9,2.1,2.2,2.3,2.4,2.6,2.7,2.8,2.9]}},
                "y": {"field": "v", "type": "quantitative", "scale": {"domain": [0, 11.5], "nice": false, "zero": false},
                  "axis": {"orient": "right", "title": null, "labels": false, "domain": true, "grid": true, "gridDash": [1, 3], "gridColor": "#bcbcbc",
                    "values": [0.5,1,1.5,2.5,3,3.5,4.5,5,5.5,6.5,7,7.5,8.5,9,9.5,10.5,11]}}
              }
            },
            {
              "mark": {"type": "line"},
              "encoding": {
                "x": {"field": "t", "type": "quantitative",
                  "axis": {"orient": "bottom", "title": "Time [sec]", "values": [0,0.5,1,1.5,2,2.5,3], "format": "~g", "labelPadding": 9, "grid": true, "domain": true, "titleY": 40, "titleBaseline": "middle"}},
                "y": {"field": "v", "type": "quantitative",
                  "axis": {"orient": "left", "title": "Average Number", "values": [2,4,6,8,10], "labelPadding": 12, "grid": true, "domain": true,
                    "titleAngle": 270, "titleX": -29, "titleY": 91.5, "titleAlign": "center", "titleBaseline": "bottom"}},
                "color": {"field": "snr", "type": "nominal", "scale": {"domain": ["12", "20"], "range": ["#0072BD", "#D95319"]}, "legend": null},
                "strokeDash": {"field": "method", "type": "nominal",
                  "scale": {"domain": ["Rough AOA Est", "AOA Refiner"], "range": [[3, 3], [1, 0]]},
                  "legend": {"orient": "none", "legendX": 314.7, "legendY": 54.7, "title": null, "symbolType": "M-1.025,0H5.225", "symbolSize": 256,
                    "symbolStrokeWidth": 2.6, "symbolStrokeColor": "black", "labelOffset": 38, "padding": 4, "rowPadding": 2,
                    "strokeColor": "#262626", "fillColor": "white"}}
              }
            }
          ]
        },
        {
          "width": 30, "height": 183,
          "view": {"stroke": "#262626", "strokeWidth": 1},
          "data": {"values": [{"snr": "20"}, {"snr": "12"}]},
          "mark": {"type": "rect"},
          "encoding": {
            "y": {"field": "snr", "type": "nominal", "sort": ["20", "12"], "scale": {"paddingInner": 0, "paddingOuter": 0},
              "axis": {"orient": "right", "domain": false, "labelPadding": 7, "labelAngle": 0, "labelBaseline": "middle",
                "title": "SNR* [dB]", "titleAngle": 270, "titleX": 44, "titleY": 91.5, "titleAlign": "center", "titleBaseline": "middle"}},
            "color": {"field": "snr", "type": "nominal", "scale": {"domain": ["12", "20"], "range": ["#0072BD", "#D95319"]}, "legend": null}
          }
        }
      ]
    },
    {
      "spacing": 34,
      "resolve": {
        "scale": {"strokeDash": "independent", "shape": "independent"},
        "legend": {"strokeDash": "independent", "shape": "independent"}
      },
      "vconcat": [
        {
          "spacing": 12,
          "bounds": "flush",
          "resolve": {"scale": {"strokeDash": "independent", "shape": "independent"}},
          "title": {"text": "(b) The Probability of Reliability", "orient": "bottom", "anchor": "middle", "frame": "bounds", "offset": 14},
          "hconcat": [
            {
              "width": 504, "height": 181,
              "data": {"name": "prob"},
              "transform": [{"fold": ["Using Rough AOAs", "Using Refined AOAs"], "as": ["method", "v"]}],
              "resolve": {"axis": {"x": "independent", "y": "independent"}},
              "layer": [
                {
                  "mark": {"type": "point", "opacity": 0},
                  "encoding": {
                    "x": {"field": "id", "type": "quantitative", "scale": {"domain": [1, 11], "range": [7, 504], "nice": false, "zero": false},
                      "axis": {"orient": "top", "title": null, "labels": false, "domain": true, "grid": true, "gridDash": [1, 3], "gridColor": "#bcbcbc",
                        "values": [1.2,1.4,1.6,1.8,2.2,2.4,2.6,2.8,3.2,3.4,3.6,3.8,4.2,4.4,4.6,4.8,5.2,5.4,5.6,5.8,6.2,6.4,6.6,6.8,7.2,7.4,7.6,7.8,8.2,8.4,8.6,8.8,9.2,9.4,9.6,9.8,10.2,10.4,10.6,10.8]}},
                    "y": {"field": "v", "type": "quantitative", "scale": {"domain": [0, 1.03], "nice": false, "zero": false},
                      "axis": {"orient": "right", "title": null, "labels": false, "domain": true, "grid": true, "gridDash": [1, 3], "gridColor": "#bcbcbc",
                        "values": [0.1,0.2,0.3,0.4,0.6,0.7,0.8,0.9]}}
                  }
                },
                {
                  "mark": {"type": "line"},
                  "encoding": {
                    "x": {"field": "id", "type": "quantitative",
                      "axis": {"orient": "bottom", "title": "Source ID", "values": [1,2,3,4,5,6,7,8,9,10,11], "format": "d", "labelPadding": 8, "grid": true, "domain": true, "titleY": 40, "titleBaseline": "middle"}},
                    "y": {"field": "v", "type": "quantitative",
                      "axis": {"orient": "left", "offset": -7, "title": "Probability", "values": [0, 0.5, 1], "format": "~g", "labelPadding": 9, "grid": true, "domain": true,
                        "titleAngle": 270, "titleX": -34, "titleY": 90.5, "titleAlign": "center", "titleBaseline": "bottom"}},
                    "color": {"field": "snr", "type": "nominal", "scale": {"domain": ["12", "20"], "range": ["#0072BD", "#D95319"]}, "legend": null},
                    "strokeDash": {"field": "method", "type": "nominal",
                      "scale": {"domain": ["Using Rough AOAs", "Using Refined AOAs"], "range": [[3, 3], [1, 0]]},
                      "legend": {"orient": "none", "legendX": 28.7, "legendY": 27.8, "title": null, "symbolType": "M-1.19,0H5.26", "symbolSize": 256,
                        "symbolStrokeWidth": 2.4, "symbolStrokeColor": "black", "labelOffset": 36, "padding": 5, "rowPadding": 2.7,
                        "strokeColor": "#262626", "fillColor": "white"}}
                  }
                },
                {
                  "transform": [{"filter": {"field": "method", "equal": "Using Rough AOAs"}}],
                  "mark": {"type": "point", "filled": false, "strokeWidth": 2.4, "size": 2600, "opacity": 1,
                    "shape": "M0.255,0A0.255,0.255 0 1,1 -0.255,0A0.255,0.255 0 1,1 0.255,0Z"},
                  "encoding": {
                    "x": {"field": "id", "type": "quantitative", "axis": null},
                    "y": {"field": "v", "type": "quantitative", "axis": null},
                    "color": {"field": "snr", "type": "nominal", "scale": {"domain": ["12", "20"], "range": ["#0072BD", "#D95319"]}, "legend": null}
                  }
                },
                {
                  "transform": [{"filter": {"field": "method", "equal": "Using Refined AOAs"}}],
                  "mark": {"type": "point", "filled": false, "strokeWidth": 2.4, "size": 2600, "opacity": 1,
                    "shape": "M-0.255,0L0.255,0M0,-0.255L0,0.255M-0.18,-0.18L0.18,0.18M-0.18,0.18L0.18,-0.18"},
                  "encoding": {
                    "x": {"field": "id", "type": "quantitative", "axis": null},
                    "y": {"field": "v", "type": "quantitative", "axis": null},
                    "color": {"field": "snr", "type": "nominal", "scale": {"domain": ["12", "20"], "range": ["#0072BD", "#D95319"]}, "legend": null}
                  }
                }
              ]
            },
            {
              "width": 30, "height": 181,
              "view": {"stroke": "#262626", "strokeWidth": 1},
              "data": {"values": [{"snr": "20"}, {"snr": "12"}]},
              "mark": {"type": "rect"},
              "encoding": {
                "y": {"field": "snr", "type": "nominal", "sort": ["20", "12"], "scale": {"paddingInner": 0, "paddingOuter": 0},
                  "axis": {"orient": "right", "domain": false, "labelPadding": 7, "labelAngle": 0, "labelBaseline": "middle",
                    "title": "SNR* [dB]", "titleAngle": 270, "titleX": 44, "titleY": 90.5, "titleAlign": "center", "titleBaseline": "middle"}},
                "color": {"field": "snr", "type": "nominal", "scale": {"domain": ["12", "20"], "range": ["#0072BD", "#D95319"]}, "legend": null}
              }
            }
          ]
        },
        {
          "spacing": 11,
          "bounds": "flush",
          "resolve": {"scale": {"strokeDash": "independent", "shape": "independent"}},
          "title": {"text": "(c) Elevation and azimuth estimation RMSE", "orient": "bottom", "anchor": "middle", "frame": "bounds", "offset": 8},
          "hconcat": [
            {
              "width": 505, "height": 188,
              "data": {"name": "rmse"},
              "transform": [{"fold": ["ϕ - Rough", "θ - Rough", "ϕ - Refined", "θ - Refined"], "as": ["series", "v"]}],
              "resolve": {"axis": {"x": "independent", "y": "independent"}},
              "layer": [
                {
                  "mark": {"type": "point", "opacity": 0},
                  "encoding": {
                    "x": {"field": "t", "type": "quantitative", "scale": {"domain": [0.1, 3.1], "range": [9, 505], "nice": false, "zero": false},
                      "axis": {"orient": "top", "title": null, "labels": false, "domain": true, "grid": true, "gridDash": [1, 3], "gridColor": "#bcbcbc",
                        "values": [0.2,0.3,0.4,0.6,0.7,0.8,0.9,1.1,1.2,1.3,1.4,1.6,1.7,1.8,1.9,2.1,2.2,2.3,2.4,2.6,2.7,2.8,2.9]}},
                    "y": {"field": "v", "type": "quantitative", "scale": {"type": "log", "domain": [0.35, 38.6], "nice": false},
                      "axis": {"orient": "right", "title": null, "labels": false, "domain": true, "grid": true, "gridDash": [1, 3], "gridColor": "#bcbcbc",
                        "values": [0.4,0.5,0.6,0.7,0.8,0.9,2,3,4,5,6,7,8,9,20,30]}}
                  }
                },
                {
                  "mark": {"type": "line"},
                  "encoding": {
                    "x": {"field": "t", "type": "quantitative",
                      "axis": {"orient": "bottom", "title": "Time [sec]", "values": [0.5,1,1.5,2,2.5,3], "format": "~g", "labelPadding": 8, "grid": true, "domain": true, "titleY": 42, "titleBaseline": "middle"}},
                    "y": {"field": "v", "type": "quantitative",
                      "axis": {"orient": "left", "offset": -9, "title": "RMSE [deg]", "values": [1, 10], "labelExpr": "datum.value >= 10 ? '10¹' : '10⁰'", "labelPadding": 8, "grid": true, "domain": true,
                        "titleAngle": 270, "titleX": -38, "titleY": 94, "titleAlign": "center", "titleBaseline": "bottom"}},
                    "color": {"field": "snr", "type": "nominal", "scale": {"domain": ["12", "20"], "range": ["#0072BD", "#D95319"]}, "legend": null},
                    "strokeDash": {"field": "series", "type": "nominal",
                      "scale": {"domain": ["ϕ - Rough", "θ - Rough", "ϕ - Refined", "θ - Refined"], "range": [[3, 3], [3, 3], [1, 0], [1, 0]]},
                      "legend": {"orient": "none", "legendX": 208.7, "legendY": 55.8, "title": null, "columns": 2, "direction": "horizontal", "columnPadding": 8,
                        "symbolType": "M-0.94,0H5.44", "symbolSize": 256, "symbolStrokeWidth": 2.4, "symbolStrokeColor": "black",
                        "labelOffset": 39.6, "padding": 3, "rowPadding": 4.7, "strokeColor": "#262626", "fillColor": "white"}}
                  }
                },
                {
                  "transform": [
                    {"filter": {"field": "series", "oneOf": ["θ - Rough", "θ - Refined"]}},
                    {"filter": {"field": "t", "oneOf": [0.1,0.22,0.34,0.46,0.58,0.7,0.82,0.94,1.06,1.18,1.3,1.42,1.54,1.66,1.78,1.9,2.02,2.14,2.26,2.38,2.5,2.62,2.74,2.86,2.98]}}
                  ],
                  "mark": {"type": "point", "filled": false, "strokeWidth": 2.2, "size": 2800, "opacity": 1, "shape": "M0.245,0L-0.245,-0.245L-0.245,0.245Z"},
                  "encoding": {
                    "x": {"field": "t", "type": "quantitative", "axis": null},
                    "y": {"field": "v", "type": "quantitative", "axis": null},
                    "color": {"field": "snr", "type": "nominal", "scale": {"domain": ["12", "20"], "range": ["#0072BD", "#D95319"]}, "legend": null},
                    "detail": {"field": "series"}
                  }
                }
              ]
            },
            {
              "width": 30, "height": 188,
              "view": {"stroke": "#262626", "strokeWidth": 1},
              "data": {"values": [{"snr": "20"}, {"snr": "12"}]},
              "mark": {"type": "rect"},
              "encoding": {
                "y": {"field": "snr", "type": "nominal", "sort": ["20", "12"], "scale": {"paddingInner": 0, "paddingOuter": 0},
                  "axis": {"orient": "right", "domain": false, "labelPadding": 7, "labelAngle": 0, "labelBaseline": "middle",
                    "title": "SNR* [dB]", "titleAngle": 270, "titleX": 44, "titleY": 94, "titleAlign": "center", "titleBaseline": "middle"}},
                "color": {"field": "snr", "type": "nominal", "scale": {"domain": ["12", "20"], "range": ["#0072BD", "#D95319"]}, "legend": null}
              }
            }
          ]
        }
      ]
    }
  ]
}
